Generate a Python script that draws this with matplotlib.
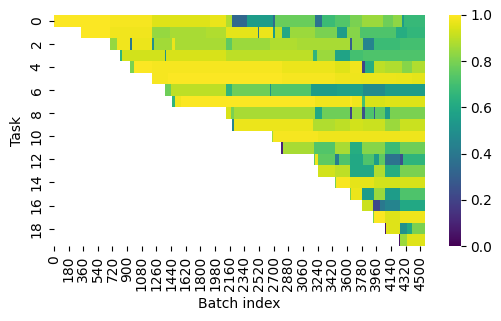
import numpy as np
import matplotlib
matplotlib.use("Agg")
import matplotlib.pyplot as plt
import seaborn as sns

# Each task: (first batch of a stretch, accuracy over that stretch)
task_00 = [(0,.995),(693,.985),(1209,.95),(1920,.965),(2123,.88),(2190,.33),(2372,.55),(2690,.35),(2715,.77),(3205,.38),(3290,.68),(3450,.73),(3635,.8),(3785,.85),(4040,.78),(4160,.83),(4275,.55),(4310,.67)]
task_01 = [(325,.995),(693,.98),(1209,.84),(1430,.87),(1870,.88),(2120,.96),(2507,.4),(2520,.97),(2690,.55),(2715,.9),(2800,.6),(2900,.85),(3205,.8),(3475,.55),(3600,.82),(3760,.72),(4210,.62),(4335,.66)]
task_02 = [(693,.84),(770,.98),(938,.4),(955,.97),(1209,.5),(1225,.86),(1450,.97),(1490,.87),(2120,.75),(2190,.85),(2655,.88),(2985,.87),(3635,.3),(3660,.82),(3790,.45),(3930,.68),(4250,.7)]
task_03 = [(816,.65),(840,.93),(1368,.5),(1385,.94),(2120,.9),(3180,.65),(3230,.85),(3450,.58),(3635,.7),(3790,.72),(4250,.72)]
task_04 = [(938,.8),(990,.995),(1209,.985),(2800,.97),(3450,.95),(3635,.98),(3785,.2),(3820,.62),(3930,.9),(4060,.88),(4270,.82),(4400,.88)]
task_05 = [(1209,.985),(1400,.995),(2800,.985),(3450,.975),(3780,.97),(4200,.965),(4400,.96)]
task_06 = [(1368,.78),(1440,.9),(2120,.65),(2190,.78),(2650,.5),(2670,.73),(3160,.55),(3480,.57),(3790,.48),(4060,.55)]
task_07 = [(1454,.65),(1490,.98),(1560,.995),(3205,.98),(3635,.995),(3660,.98),(3785,.7),(3820,.94),(4060,.95)]
task_08 = [(2116,.94),(2170,.8),(2215,.87),(3205,.6),(3290,.78),(3635,.2),(3660,.85),(3785,.25),(3820,.72),(3930,.3),(3950,.75),(4060,.55),(4130,.8)]
task_09 = [(2190,.45),(2215,.97),(3180,.88),(3450,.9),(3635,.93),(3790,.92),(4060,.85),(4250,.92)]
task_10 = [(2681,.85),(2700,.985),(3245,.975)]
task_11 = [(2792,.1),(2810,.87),(3196,.73),(3450,.87),(3635,.62),(3785,.82),(4060,.68),(4250,.78)]
task_12 = [(3196,.75),(3210,.97),(3245,.75),(3450,.42),(3510,.72),(3635,.6),(3790,.72),(3930,.55),(3990,.75),(4060,.38),(4250,.25),(4285,.65)]
task_13 = [(3245,.93),(3450,.9),(3635,.6),(3930,.88),(4060,.62),(4250,.8)]
task_14 = [(3454,.8),(3470,.99),(3635,.96),(3930,.93),(4250,.94)]
task_15 = [(3638,.8),(3650,.97),(3785,.55),(3930,.85),(4060,.55),(4250,.72)]
task_16 = [(3786,.92),(3921,.22),(4000,.4),(4060,.45),(4250,.6)]
task_17 = [(3921,.8),(3935,.995),(4060,.95),(4250,.975)]
task_18 = [(4068,.05),(4085,.95),(4250,.5),(4330,.6),(4400,.8)]
task_19 = [(4240,.05),(4255,.85),(4330,.95)]
tasks = [task_00,task_01,task_02,task_03,task_04,task_05,task_06,task_07,task_08,task_09,
         task_10,task_11,task_12,task_13,task_14,task_15,task_16,task_17,task_18,task_19]

BATCH_STEP = 9
N_BATCHES = 4563
batch_index = np.arange(0, N_BATCHES, BATCH_STEP)

matrix = np.full((len(tasks), batch_index.size), np.nan)
for row, segments in enumerate(tasks):
    for k, (start, value) in enumerate(segments):
        end = segments[k + 1][0] if k + 1 < len(segments) else N_BATCHES
        matrix[row, (batch_index >= start) & (batch_index < end)] = value

W, H = 501, 321
fig = plt.figure(figsize=(W / 100, H / 100), dpi=100)
ax = fig.add_axes([53.5 / W, 1 - 246 / H, 371.5 / W, 231 / H])
cax = fig.add_axes([449 / W, 1 - 246 / H, 11.5 / W, 231 / H])

sns.heatmap(matrix, ax=ax, cbar_ax=cax, cmap="viridis", vmin=0, vmax=1,
            xticklabels=False, yticklabels=False)

xt = np.arange(0, batch_index.size, 20)
ax.set_xticks(xt + 0.5)
ax.set_xticklabels([str(batch_index[i]) for i in xt], rotation=90)
yt = np.arange(0, len(tasks), 2)
ax.set_yticks(yt + 0.5)
ax.set_yticklabels([str(i) for i in yt], rotation=90, va="center")
ax.set_xlabel("Batch index")
ax.set_ylabel("Task")

fig.savefig("out.png", dpi=100)
